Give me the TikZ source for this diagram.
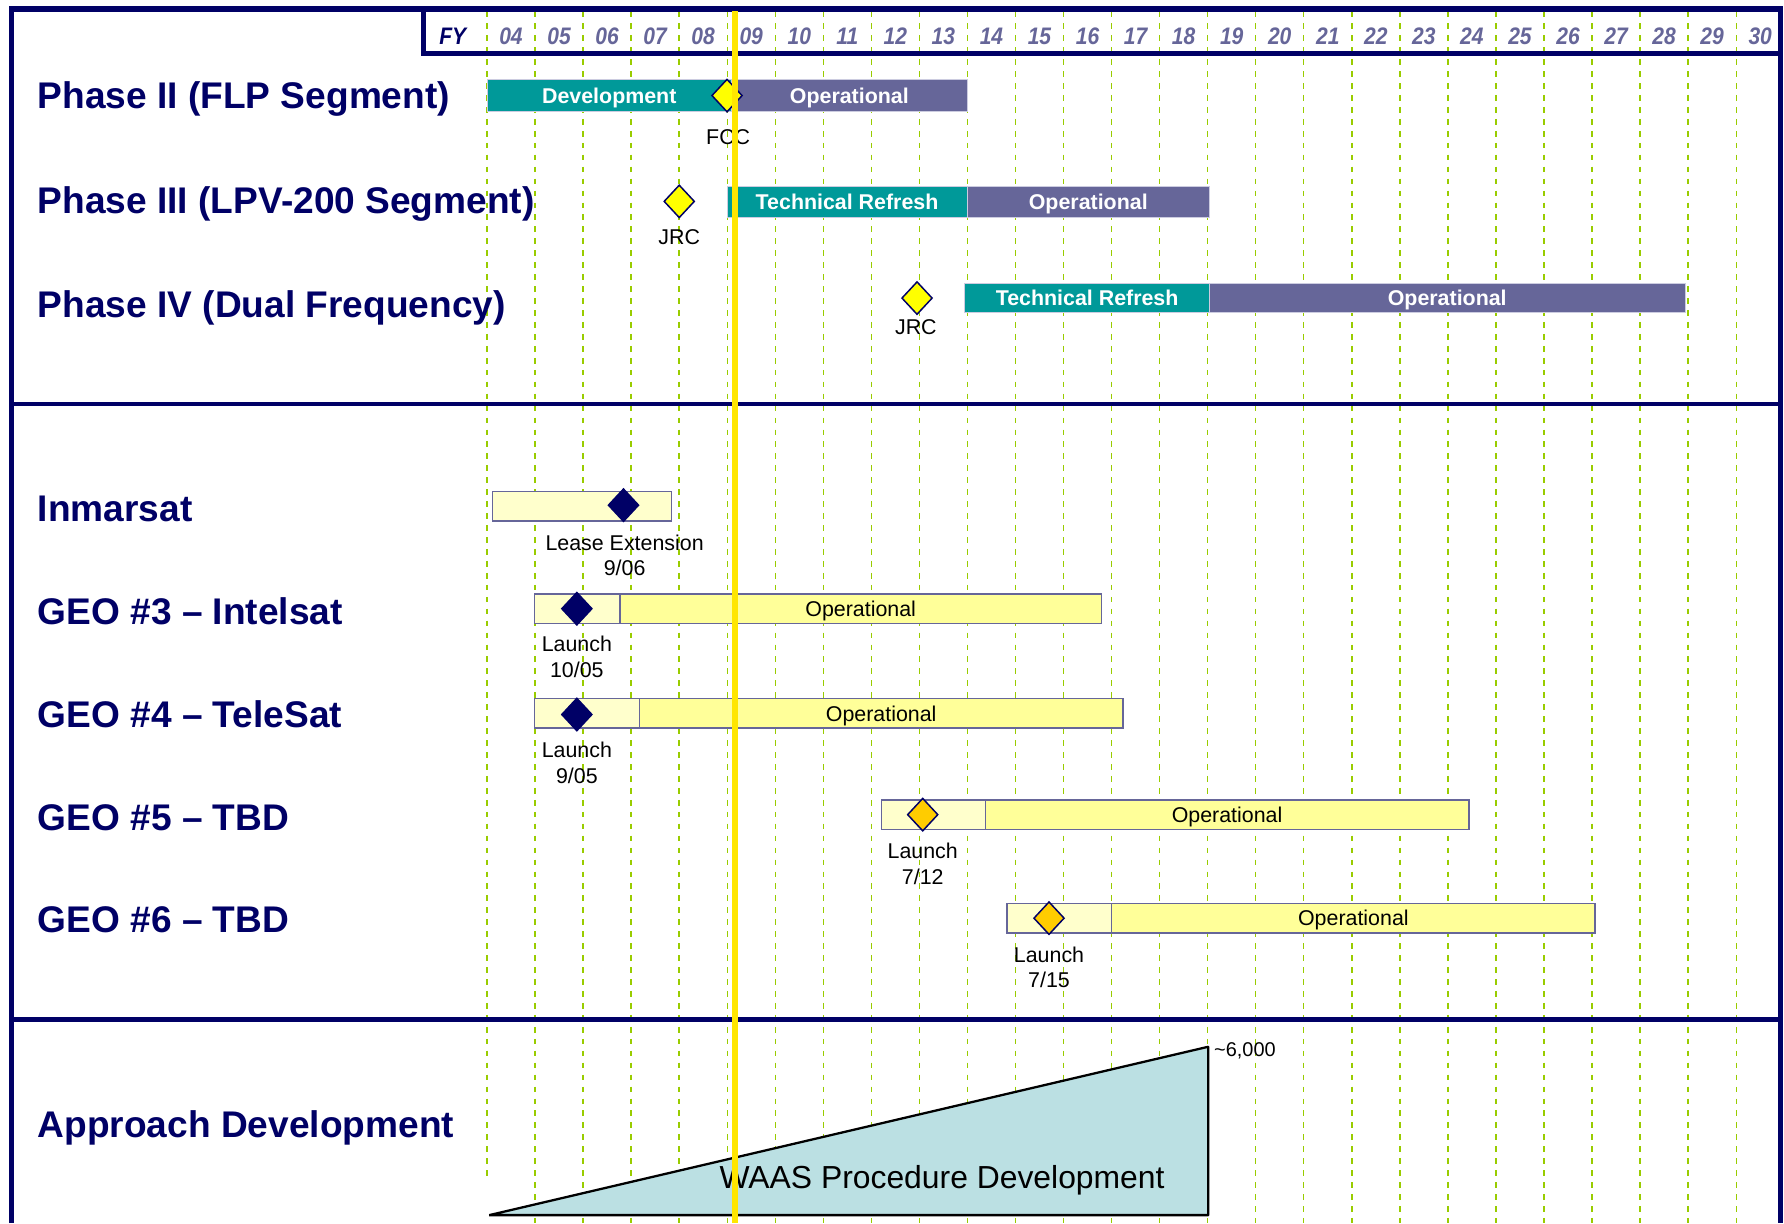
\documentclass[tikz,border=0pt]{standalone}
\usepackage{fontspec}
\setmainfont{Liberation Sans}
\usetikzlibrary{shapes.geometric}
\definecolor{navy}{HTML}{000066}
\definecolor{cteal}{HTML}{009999}
\definecolor{cpurple}{HTML}{666699}
\definecolor{cpale}{HTML}{FFFFCC}
\definecolor{cyel}{HTML}{FFFF99}
\definecolor{cgreen}{HTML}{99CC00}
\definecolor{cyline}{HTML}{FFE600}
\definecolor{ctri}{HTML}{BBE0E3}
\definecolor{cedge}{HTML}{CCCCE0}
\definecolor{corange}{HTML}{FFCC00}
\definecolor{cydia}{HTML}{FFFF00}
\tikzset{
 gridline/.style={draw=cgreen, line width=1.2, dash pattern=on 5 off 5.5},
 title/.style={anchor=west, inner sep=0, text=navy, font=\fontsize{32.6}{38}\selectfont\bfseries, text height=23.3pt, text depth=0pt},
 phasebar/.style={draw=cedge, line width=0.8, inner sep=0, minimum height=28, text=white, font=\fontsize{18.8}{22}\selectfont\bfseries, text height=13.5pt, text depth=0pt},
 devbar/.style={phasebar, fill=cteal},
 opbar/.style={phasebar, fill=cpurple},
 geobar/.style={draw=cpurple, line width=1.2, inner sep=0, minimum height=26, font=\fontsize{18.8}{22}\selectfont, text height=13.5pt, text depth=0pt},
 palebar/.style={geobar, fill=cpale},
 yelbar/.style={geobar, fill=cyel},
 ms/.style={diamond, draw=navy, line width=1.3, inner sep=0, minimum width=27, minimum height=29},
 lbl/.style={inner sep=0, font=\fontsize{18.8}{22}\selectfont, text height=13.5pt, text depth=0pt},
 yr/.style={inner sep=0, xscale=0.88, font=\fontsize{21}{24}\selectfont\bfseries\itshape, text=cpurple, text height=15pt, text depth=0pt},
 frameline/.style={draw=navy, line width=5},
 sepline/.style={draw=navy, line width=4},
}
\begin{document}
\begin{tikzpicture}[x=1pt,y=-1pt]
\useasboundingbox (0,0) rectangle (1568,1075);
\fill[white] (0,0) rectangle (1568,1075);

% grid lines
\draw[gridline] (428,10) -- (428,1037);
\foreach \i in {1,...,26} {
  \draw[gridline] ({428+42.23*\i},10) -- ({428+42.23*\i},1075);
}

% header
\node[yr, text=navy] (fy) at (398,32) {FY};
\foreach \lab [count=\k from 0] in {04,05,06,07,08,09,10,11,12,13,14,15,16,17,18,19,20,21,22,23,24,25,26,27,28,29,30} {
  \node[yr] (y\lab) at ({449.1+42.23*\k},32) {\lab};
}

% titles
\node[title] (t1) at (33,84) {Phase II (FLP Segment)};
\node[title] (t2) at (33,176) {Phase III (LPV-200 Segment)};
\node[title] (t3) at (33,267) {Phase IV (Dual Frequency)};
\node[title] (t4) at (33,447) {Inmarsat};
\node[title] (t5) at (33,537) {GEO \#3 – Intelsat};
\node[title] (t6) at (33,628) {GEO \#4 – TeleSat};
\node[title] (t7) at (33,718) {GEO \#5 – TBD};
\node[title] (t8) at (33,808) {GEO \#6 – TBD};
\node[title] (t9) at (33,988) {Approach Development};

% phase bars
\node[devbar, minimum width=215] (p2d) at (535.5,84) {Development};
\node[opbar, minimum width=207] (p2o) at (746.5,84) {Operational};
\node[devbar, minimum width=211, minimum height=27] (p3d) at (744.5,177.5) {Technical Refresh};
\node[opbar, minimum width=213, minimum height=27] (p3o) at (956.5,177.5) {Operational};
\node[devbar, minimum width=215, minimum height=26] (p4d) at (955.5,262) {Technical Refresh};
\node[opbar, minimum width=418, minimum height=26] (p4o) at (1272,262) {Operational};

\node[ms, fill=cydia] (fcc) at (639,84) {};
\node[lbl] (fccl) at (640,120.5) {FCC};
\node[ms, fill=cydia] (jrc1) at (597,177) {};
\node[lbl] (jrc1l) at (597,208) {JRC};
\node[ms, fill=cydia] (jrc2) at (806,262) {};
\node[lbl] (jrc2l) at (805,287) {JRC};

% GEO bars
\node[palebar, minimum width=157] (inm) at (511.5,445) {};
\node[ms, fill=navy] (inmd) at (548,444) {};
\node[lbl] (inml1) at (549,477) {Lease Extension};
\node[lbl] (inml2) at (549,498.7) {9/06};

\node[palebar, minimum width=75] (g3p) at (507.5,535) {};
\node[yelbar, minimum width=423] (g3o) at (756.5,535) {Operational};
\node[ms, fill=navy] (g3d) at (507,535) {};
\node[lbl] (g3l1) at (507,566) {Launch};
\node[lbl] (g3l2) at (507,588.5) {10/05};

\node[palebar, minimum width=92] (g4p) at (516,627) {};
\node[yelbar, minimum width=425] (g4o) at (774.5,627) {Operational};
\node[ms, fill=navy] (g4d) at (507,628) {};
\node[lbl] (g4l1) at (507,659) {Launch};
\node[lbl] (g4l2) at (507,681.5) {9/05};

\node[palebar, minimum width=91] (g5p) at (820.5,716) {};
\node[yelbar, minimum width=425] (g5o) at (1078.5,716) {Operational};
\node[ms, fill=corange] (g5d) at (811,716) {};
\node[lbl] (g5l1) at (811,748) {Launch};
\node[lbl] (g5l2) at (811,770.5) {7/12};

\node[palebar, minimum width=92] (g6p) at (931,807) {};
\node[yelbar, minimum width=425] (g6o) at (1189.5,807) {Operational};
\node[ms, fill=corange] (g6d) at (922,807) {};
\node[lbl] (g6l1) at (922,839) {Launch};
\node[lbl] (g6l2) at (922,861.5) {7/15};

% approach triangle
\coordinate (ta) at (430,1068);
\coordinate (tb) at (1062,920);
\coordinate (tc) at (1062,1068);
\draw[fill=ctri, line width=2, line join=bevel] (ta) -- (tb) -- (tc) -- cycle;
\node[lbl, anchor=west, font=\fontsize{17.5}{20}\selectfont, text height=12.5pt] (six) at (1067,922) {\textasciitilde 6,000};
\node[lbl, font=\fontsize{28}{32}\selectfont, text height=20pt] (waas) at (828,1035) {WAAS Procedure Development};

% frame
\draw[frameline] (10,1075) -- (10,8) -- (1565,8) -- (1565,1075);
\draw[sepline] (372,8) -- (372,47) -- (1565,47);
\draw[sepline] (10,355) -- (1565,355);
\draw[sepline] (10,896) -- (1565,896);

% now line
\draw[cyline, line width=6] (646,10) -- (646,1075);
\end{tikzpicture}
\end{document}
